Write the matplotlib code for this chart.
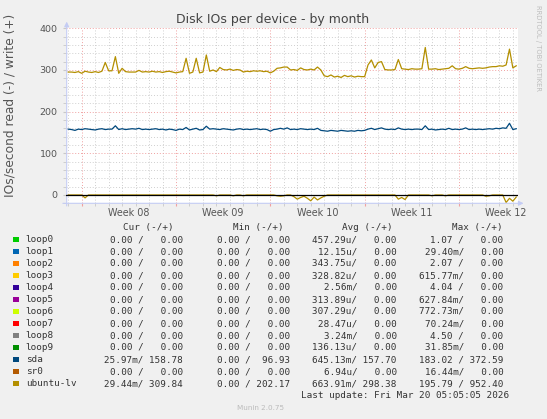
import numpy as np
import matplotlib
matplotlib.use("Agg")
import matplotlib.pyplot as plt
from matplotlib.patches import Rectangle
from matplotlib.transforms import blended_transform_factory

# ---------------- data ----------------
title = "Disk IOs per device - by month"
ylabel = "IOs/second read (-) / write (+)"
week_labels = ["Week 08", "Week 09", "Week 10", "Week 11", "Week 12"]
week_starts = [0, 7, 14, 21, 28]          # days since Mon Feb 16 2026
t_start, t_step = -1.0, 0.25              # sample grid (days)
x_min, x_max = -1.165, 32.36

ubuntu_write = [
    295, 295, 294, 296,   292, 297, 295, 294,   296, 294, 297, 318,
    298, 298, 332, 292,   304, 296, 295, 295,   295, 299, 295, 296,
    295, 297, 295, 296,   294, 296, 297, 295,   293, 295, 296, 328,
    292, 295, 328, 293,   295, 336, 297, 300,   296, 306, 301, 300,
    302, 299, 301, 300,   295, 297, 296, 298,   297, 298, 296, 297,
    293, 297, 304, 305,   307, 307, 300, 301,   299, 305, 301, 300,
    302, 300, 307, 300,   286, 284, 288, 283,   285, 282, 287, 284,
    286, 283, 285, 284,   284, 312, 324, 305,   318, 320, 301, 300,
    300, 301, 325, 303,   302, 301, 303, 302,   302, 303, 354, 302,
    302, 303, 301, 302,   303, 304, 310, 303,   302, 304, 308, 304,
    303, 304, 305, 304,   305, 307, 308, 308,   310, 309, 312, 350,
    305, 310,
]
sda_write = [
    158, 157, 155, 158,   157, 159, 158, 157,   156, 158, 159, 157,
    158, 158, 166, 157,   159, 157, 158, 159,   158, 160, 157, 158,
    157, 158, 159, 157,   158, 156, 158, 157,   155, 158, 157, 162,
    156, 158, 160, 156,   157, 165, 158, 159,   158, 157, 159, 158,
    157, 156, 158, 159,   157, 158, 157, 158,   159, 157, 158, 157,
    153, 157, 158, 160,   158, 161, 157, 158,   157, 159, 158, 157,
    158, 157, 160, 155,   154, 153, 155, 154,   153, 155, 154, 153,
    154, 153, 155, 154,   155, 158, 160, 157,   159, 161, 158, 157,
    158, 157, 161, 158,   157, 158, 157, 158,   158, 157, 166, 157,
    158, 156, 157, 158,   157, 160, 157, 158,   157, 158, 161, 157,
    158, 157, 158, 157,   158, 159, 158, 160,   159, 161, 160, 172,
    157, 159,
]
ubuntu_read = [
    0, 0, 0, 0,   0, 7, 0, 0,   0, 0, 0, 0,   0, 0, 0, 0,
    0, 0, 0, 0,   0, 0, 0, 0,   0, 0, 0, 0,   0, 0, 0, 0,
    0, 0, 0, 0,   0, 0, 0, 0,   0, 0, 0, 0,   2, 0, 0, 0,
    0, 2, 0, 0,   2, 0, 0, 0,   0, 0, 0, 0,   0, 0, 2, 3,
    2, 0, 0, 4,   10, 6, 3, 8,  14, 5, 12, 7, 3, 0, 0, 0,
    0, 0, 0, 0,   0, 0, 0, 0,   0, 0, 0, 0,   0, 0, 0, 0,
    0, 0, 10, 6,  11, 0, 0, 0,  0, 0, 0, 0,   2, 0, 0, 0,
    2, 0, 0, 0,   0, 0, 0, 0,   0, 0, 0, 0,   3, 2, 0, 0,
    0, 0, 18, 8,  15, 5,
]

legend_names = ["loop0", "loop1", "loop2", "loop3", "loop4", "loop5", "loop6",
                "loop7", "loop8", "loop9", "sda", "sr0", "ubuntu-lv"]
legend_colors = ["#00CC00", "#0066B3", "#FF8000", "#FFCC00", "#330099", "#990099",
                 "#CCFF00", "#FF0000", "#808080", "#008F00", "#00487D", "#B35A00",
                 "#B38F00"]
cur_vals = ["0.00 /   0.00"] * 10 + ["25.97m/ 158.78", "0.00 /   0.00", "29.44m/ 309.84"]
min_vals = ["0.00 /   0.00"] * 10 + ["0.00 /  96.93", "0.00 /   0.00", "0.00 / 202.17"]
avg_vals = ["457.29u/   0.00", "12.15u/   0.00", "343.75u/   0.00", "328.82u/   0.00",
            "2.56m/   0.00", "313.89u/   0.00", "307.29u/   0.00", "28.47u/   0.00",
            "3.24m/   0.00", "136.13u/   0.00", "645.13m/ 157.70", "6.94u/   0.00",
            "663.91m/ 298.38"]
max_vals = ["1.07 /   0.00", "29.40m/   0.00", "2.07 /   0.00", "615.77m/   0.00",
            "4.04 /   0.00", "627.84m/   0.00", "772.73m/   0.00", "70.24m/   0.00",
            "4.50 /   0.00", "31.85m/   0.00", "183.02 / 372.59", "16.44m/   0.00",
            "195.79 / 952.40"]
col_headers = ["Cur (-/+)", "Min (-/+)", "Avg (-/+)", "Max (-/+)"]
last_update = "Last update: Fri Mar 20 05:05:05 2026"

# ---------------- figure ----------------
W, H = 547, 419
fig = plt.figure(figsize=(W / 100, H / 100), dpi=100, facecolor="#F0F0F0")

def fx(x):
    return x / W

def fy(y):
    return 1 - y / H

ax_l, ax_r, ax_t, ax_b = 66.0, 517.7, 28.3, 203.3
ax = fig.add_axes([fx(ax_l), fy(ax_b), (ax_r - ax_l) / W, (ax_b - ax_t) / H])
ax.set_facecolor("white")

t = t_start + t_step * np.arange(len(ubuntu_write))

ax.set_xlim(x_min, x_max)
ax.set_ylim(-20, 400)

# grid
days = np.arange(np.ceil(x_min), np.floor(x_max) + 1)
ax.set_xticks(week_starts)
ax.set_xticks([d for d in days if d not in week_starts], minor=True)
ax.set_yticks([0, 100, 200, 300, 400])
ax.set_yticks([v for v in range(-20, 401, 20) if v % 100 != 0], minor=True)
ax.grid(which="minor", color="#CFCFCF", linestyle=(0, (1, 2)), linewidth=0.7)
ax.grid(which="major", color="#F0A0A0", linestyle=(0, (1, 2)), linewidth=0.7)
ax.set_axisbelow(True)
ax.set_xticklabels([])
ax.tick_params(axis="x", which="major", length=2.5, color="#F0A0A0", direction="out")
ax.tick_params(axis="x", which="minor", length=2, color="#C8C8C8", direction="out")
ax.tick_params(axis="y", which="both", length=2, color="#C8C8C8", direction="out",
               labelsize=6.8, labelcolor="#555555", pad=4)

for s in ["top", "right", "left", "bottom"]:
    ax.spines[s].set_visible(False)
ax.axvline(x_max, color="#F0A0A0", linestyle=(0, (1, 2)), linewidth=0.7, zorder=1)

# week labels at mid-week
trans = blended_transform_factory(ax.transData, ax.transAxes)
for ws, lab in zip(week_starts, week_labels):
    ax.text(ws + 3.5, -0.055, lab, transform=trans, ha="center", va="center",
            fontsize=6.9, color="#555555", clip_on=False)

# data lines
ax.plot(t, -np.array(ubuntu_read), color="#B38F00", linewidth=0.9, zorder=3)
ax.axhline(0, color="black", linewidth=0.9, zorder=4)
ax.plot(t, sda_write, color="#00487D", linewidth=0.9, zorder=5)
ax.plot(t, ubuntu_write, color="#B38F00", linewidth=0.9, zorder=5)

# axis arrows
arrow_c = "#C4CCF4"
ax.annotate("", xy=(1.013, 0), xytext=(-0.007, 0), xycoords="axes fraction",
            arrowprops=dict(arrowstyle="-|>", color=arrow_c, lw=0.8,
                            mutation_scale=7, shrinkA=0, shrinkB=0),
            annotation_clip=False)
ax.annotate("", xy=(0.0015, 1.038), xytext=(0.0015, -0.015), xycoords="axes fraction",
            arrowprops=dict(arrowstyle="-|>", color=arrow_c, lw=0.8,
                            mutation_scale=7, shrinkA=0, shrinkB=0),
            annotation_clip=False)

# titles
fig.text(fx(273), fy(19), title, ha="center", va="center", fontsize=9,
         color="#444444")
fig.text(fx(10.5), fy(105.3), ylabel, ha="center", va="center", rotation=90,
         fontsize=8.8, color="#555555")
fig.text(fx(537.7), fy(5), "RRDTOOL / TOBI OETIKER", ha="center", va="top",
         rotation=270, fontsize=4.9, color="#BDBDBD")

# legend
mono = "DejaVu Sans Mono"
fs = 6.7
tc = "#333333"
hdr_x = [174, 283.3, 392.7, 502.7]
val_x = [182.7, 289.7, 396.7, 503.3]
for hx, h in zip(hdr_x, col_headers):
    fig.text(fx(hx), fy(227.3), h, ha="right", va="center", family=mono,
             fontsize=fs, color=tc)
cols = [cur_vals, min_vals, avg_vals, max_vals]
for i, (name, col) in enumerate(zip(legend_names, legend_colors)):
    y = 239.5 + 12.0 * i
    fig.add_artist(Rectangle((fx(13.4), fy(y + 2.7)), 5.3 / W, 5.3 / H,
                             transform=fig.transFigure, facecolor=col,
                             edgecolor="none"))
    fig.text(fx(25.7), fy(y), name, ha="left", va="center", family=mono,
             fontsize=fs, color=tc)
    for vx, vals in zip(val_x, cols):
        fig.text(fx(vx), fy(y), vals[i], ha="right", va="center", family=mono,
                 fontsize=fs, color=tc)
fig.text(fx(509), fy(395.3), last_update, ha="right", va="center", family=mono,
         fontsize=fs, color=tc)
fig.text(fx(260.5), fy(408.3), "Munin 2.0.75", ha="center", va="center",
         fontsize=5.2, color="#BBBBBB")

fig.savefig("out.png", dpi=100, facecolor=fig.get_facecolor())
